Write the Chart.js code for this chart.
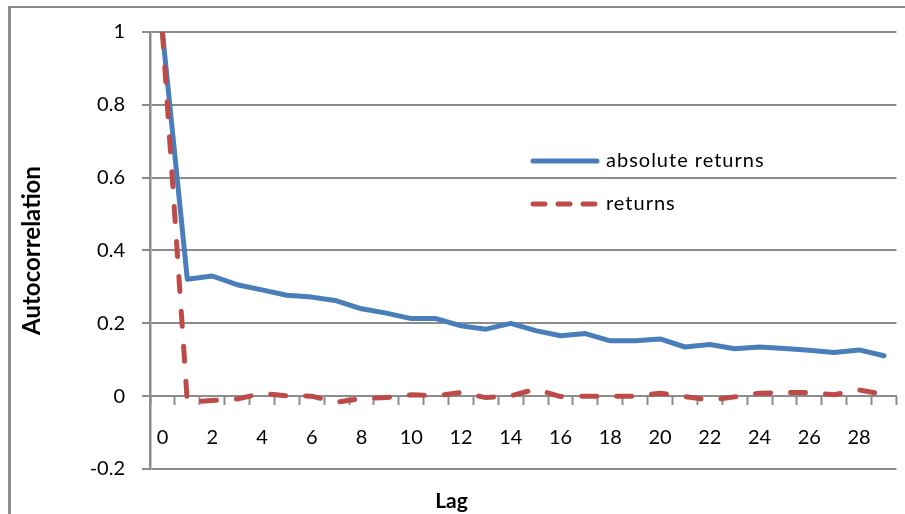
<!DOCTYPE html>
<html>
<head>
<meta charset="utf-8">
<script src="https://cdn.jsdelivr.net/npm/chart.js@4/dist/chart.umd.min.js"></script>
<style>
  html, body { margin: 0; padding: 0; background: #fff; overflow: hidden; }
  #wrap { position: relative; width: 905px; height: 514px; }
  #chart { position: absolute; left: 0; top: 0; }
  #frame {
    position: absolute; left: 8px; top: 6px; width: 1000px; height: 600px;
    border-left: 3px solid #8c8c8c; border-top: 2px solid #8c8c8c;
    pointer-events: none;
  }
</style>
</head>
<body>
<div id="wrap">
  <canvas id="chart" width="905" height="514"></canvas>
  <div id="frame"></div>
</div>
<script>
// Lags 0..29
const lags = ['0','1','2','3','4','5','6','7','8','9','10','11','12','13','14',
              '15','16','17','18','19','20','21','22','23','24','25','26','27','28','29'];

// Autocorrelation of absolute returns
const absReturns = [1.000, 0.321, 0.330, 0.306, 0.292, 0.277, 0.272, 0.262, 0.240, 0.228,
                    0.213, 0.213, 0.193, 0.184, 0.200, 0.180, 0.166, 0.172, 0.152, 0.152,
                    0.157, 0.135, 0.142, 0.130, 0.135, 0.131, 0.126, 0.120, 0.127, 0.111];

// Autocorrelation of returns
const returns = [1.000, -0.016, -0.012, -0.008, 0.008, 0.001, 0.000, -0.017, -0.006, -0.004,
                 0.004, 0.001, 0.010, -0.004, 0.001, 0.019, -0.001, 0.000, 0.000, 0.000,
                 0.008, -0.001, -0.011, -0.002, 0.008, 0.010, 0.010, 0.004, 0.017, 0.005];

// Shown x labels (every other lag) and y tick values
const xTickLabels = ['0','2','4','6','8','10','12','14','16','18','20','22','24','26','28'];
const yTicks = [-0.2, 0, 0.2, 0.4, 0.6, 0.8, 1];

const seriesNames = ['absolute returns', 'returns'];

const BLUE = '#4a7ebb';
const RED = '#be4b48';
const GRID = '#8c8c8c';
const FONT = 'Lato';

// Legend drawn inside the plot area
const insideLegend = {
  id: 'insideLegend',
  afterDraw(chart) {
    const ctx = chart.ctx;
    const entries = [
      { text: seriesNames[0], color: BLUE, dash: [], y: 161 },
      { text: seriesNames[1], color: RED, dash: [12, 13], y: 204 }
    ];
    ctx.save();
    entries.forEach(e => {
      ctx.beginPath();
      ctx.strokeStyle = e.color;
      ctx.lineWidth = 5;
      ctx.lineCap = 'round';
      ctx.setLineDash(e.dash);
      ctx.moveTo(533, e.y);
      ctx.lineTo(597, e.y);
      ctx.stroke();
      ctx.setLineDash([]);
      ctx.fillStyle = '#000';
      ctx.font = '20px ' + FONT;
      ctx.textBaseline = 'middle';
      ctx.textAlign = 'left';
      if ('letterSpacing' in ctx) ctx.letterSpacing = '1px';
      ctx.fillText(e.text, 606, e.y);
      if ('letterSpacing' in ctx) ctx.letterSpacing = '0px';
    });
    ctx.restore();
  }
};

new Chart(document.getElementById('chart'), {
  type: 'line',
  data: {
    labels: lags,
    datasets: [
      {
        label: seriesNames[0],
        data: absReturns,
        borderColor: BLUE,
        backgroundColor: BLUE,
        borderWidth: 5,
        pointRadius: 0,
        tension: 0,
        borderCapStyle: 'round',
        borderJoinStyle: 'round',
        order: 2
      },
      {
        label: seriesNames[1],
        data: returns,
        borderColor: RED,
        backgroundColor: RED,
        borderWidth: 5,
        borderDash: [15, 20],
        pointRadius: 0,
        tension: 0,
        borderCapStyle: 'round',
        borderJoinStyle: 'round',
        order: 1
      }
    ]
  },
  options: {
    responsive: false,
    animation: false,
    devicePixelRatio: 1,
    layout: { padding: { left: 0, right: 2, top: 32, bottom: 0 } },
    plugins: {
      legend: { display: false },
      tooltip: { enabled: false },
      title: {
        display: true,
        text: 'Lag',
        position: 'bottom',
        color: '#000',
        font: { family: FONT, size: 21, weight: 'bold', lineHeight: 1.2 },
        padding: { top: 19.4, bottom: 0.4 }
      }
    },
    scales: {
      x: {
        type: 'category',
        position: { y: 0 },
        offset: true,
        grid: {
          offset: true,
          drawOnChartArea: false,
          drawTicks: true,
          tickLength: 8,
          tickWidth: 2,
          tickColor: GRID
        },
        border: { display: true, color: GRID, width: 2 },
        ticks: {
          autoSkip: false,
          maxRotation: 0,
          padding: 21,
          color: '#000',
          font: { family: FONT, size: 20 },
          callback: (val, i) => (xTickLabels.includes(lags[i]) ? lags[i] : '')
        }
      },
      y: {
        type: 'linear',
        min: yTicks[0],
        max: yTicks[yTicks.length - 1],
        afterFit: s => { s.width = 150; },
        afterBuildTicks: s => { s.ticks = yTicks.map(v => ({ value: v })); },
        grid: {
          color: GRID,
          lineWidth: 2,
          drawTicks: true,
          tickLength: 8,
          tickColor: GRID
        },
        border: { display: true, color: GRID, width: 2.5 },
        ticks: {
          padding: 17,
          color: '#000',
          font: { family: FONT, size: 20 },
          callback: v => String(Math.round(v * 10) / 10)
        },
        title: {
          display: true,
          text: 'Autocorrelation',
          color: '#000',
          font: { family: FONT, size: 24, weight: 'bold', lineHeight: 1.2 },
          padding: { top: 17.6, bottom: 0 }
        }
      }
    }
  },
  plugins: [insideLegend]
});
</script>
</body>
</html>
